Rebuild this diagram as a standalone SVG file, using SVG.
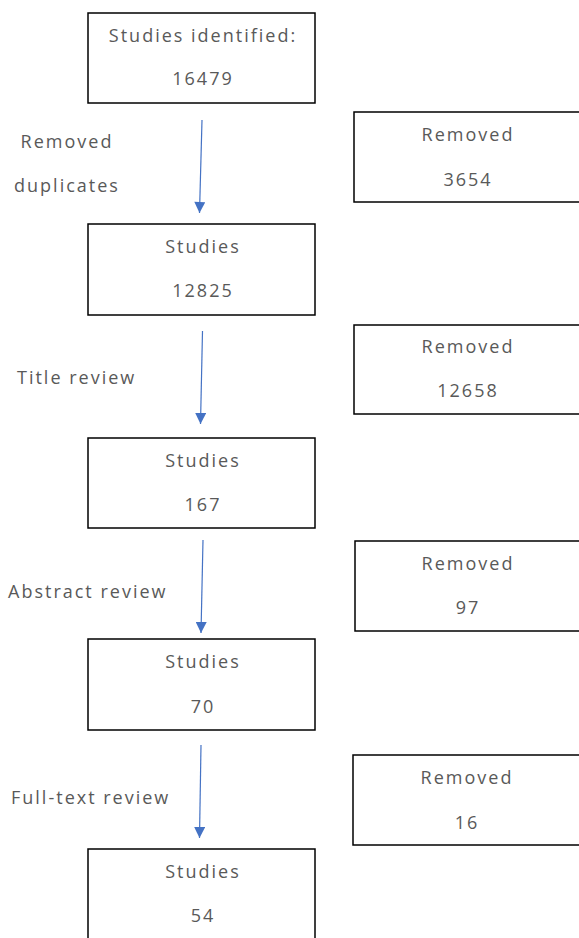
<svg xmlns="http://www.w3.org/2000/svg" width="579" height="938" viewBox="0 0 579 938">
<defs>
<style>
.box{fill:#fff;stroke:#000;stroke-width:1.5}
.t{font-family:"Open Sans","Noto Sans",sans-serif;font-size:18px;fill:#595959;letter-spacing:2px;text-anchor:middle;dominant-baseline:central}
.l{font-family:"Open Sans","Noto Sans",sans-serif;font-size:18px;fill:#595959;letter-spacing:2px;dominant-baseline:central}
.c{stroke:#4472C4;stroke-width:1.2;fill:none}
</style>
<marker id="ah" viewBox="0 0 10 10" refX="10" refY="5" markerWidth="12" markerHeight="11" markerUnits="userSpaceOnUse" orient="auto">
<path d="M0,0 L10,5 L0,10 z" fill="#4472C4"/>
</marker>
</defs>
<rect width="579" height="938" fill="#fff"/>
<g id="connectors">
<line class="c" x1="202" y1="120" x2="199.5" y2="213" marker-end="url(#ah)"/>
<line class="c" x1="202.5" y1="331" x2="200.5" y2="424" marker-end="url(#ah)"/>
<line class="c" x1="203" y1="540" x2="201" y2="633" marker-end="url(#ah)"/>
<line class="c" x1="201" y1="745" x2="199.5" y2="838" marker-end="url(#ah)"/>
</g>
<g id="n1"><rect class="box" x="88" y="13" width="227" height="90"/><text class="t" x="203" y="35">Studies identified:</text><text class="t" x="203" y="78">16479</text></g>
<g id="r1"><rect class="box" x="354" y="112" width="226" height="90"/><text class="t" x="468" y="134">Removed</text><text class="t" x="468" y="179">3654</text></g>
<g id="n2"><rect class="box" x="88" y="224" width="227" height="91"/><text class="t" x="203" y="246">Studies</text><text class="t" x="203" y="290">12825</text></g>
<g id="r2"><rect class="box" x="354" y="325" width="226" height="89"/><text class="t" x="468" y="346">Removed</text><text class="t" x="468" y="390">12658</text></g>
<g id="n3"><rect class="box" x="88" y="438" width="227" height="90"/><text class="t" x="203" y="460">Studies</text><text class="t" x="203" y="504">167</text></g>
<g id="r3"><rect class="box" x="355" y="541" width="225" height="90"/><text class="t" x="468" y="563">Removed</text><text class="t" x="468" y="607">97</text></g>
<g id="n4"><rect class="box" x="88" y="639" width="227" height="91"/><text class="t" x="203" y="661">Studies</text><text class="t" x="203" y="706">70</text></g>
<g id="r4"><rect class="box" x="353" y="755" width="227" height="90"/><text class="t" x="467" y="777">Removed</text><text class="t" x="467" y="822">16</text></g>
<g id="n5"><rect class="box" x="88" y="849" width="227" height="95"/><text class="t" x="203" y="871">Studies</text><text class="t" x="203" y="915">54</text></g>
<g id="labels">
<text class="t" x="67" y="141">Removed</text>
<text class="t" x="67" y="185">duplicates</text>
<text class="l" x="17" y="377">Title review</text>
<text class="l" x="8" y="591">Abstract review</text>
<text class="l" x="11" y="797">Full-text review</text>
</g>
</svg>
